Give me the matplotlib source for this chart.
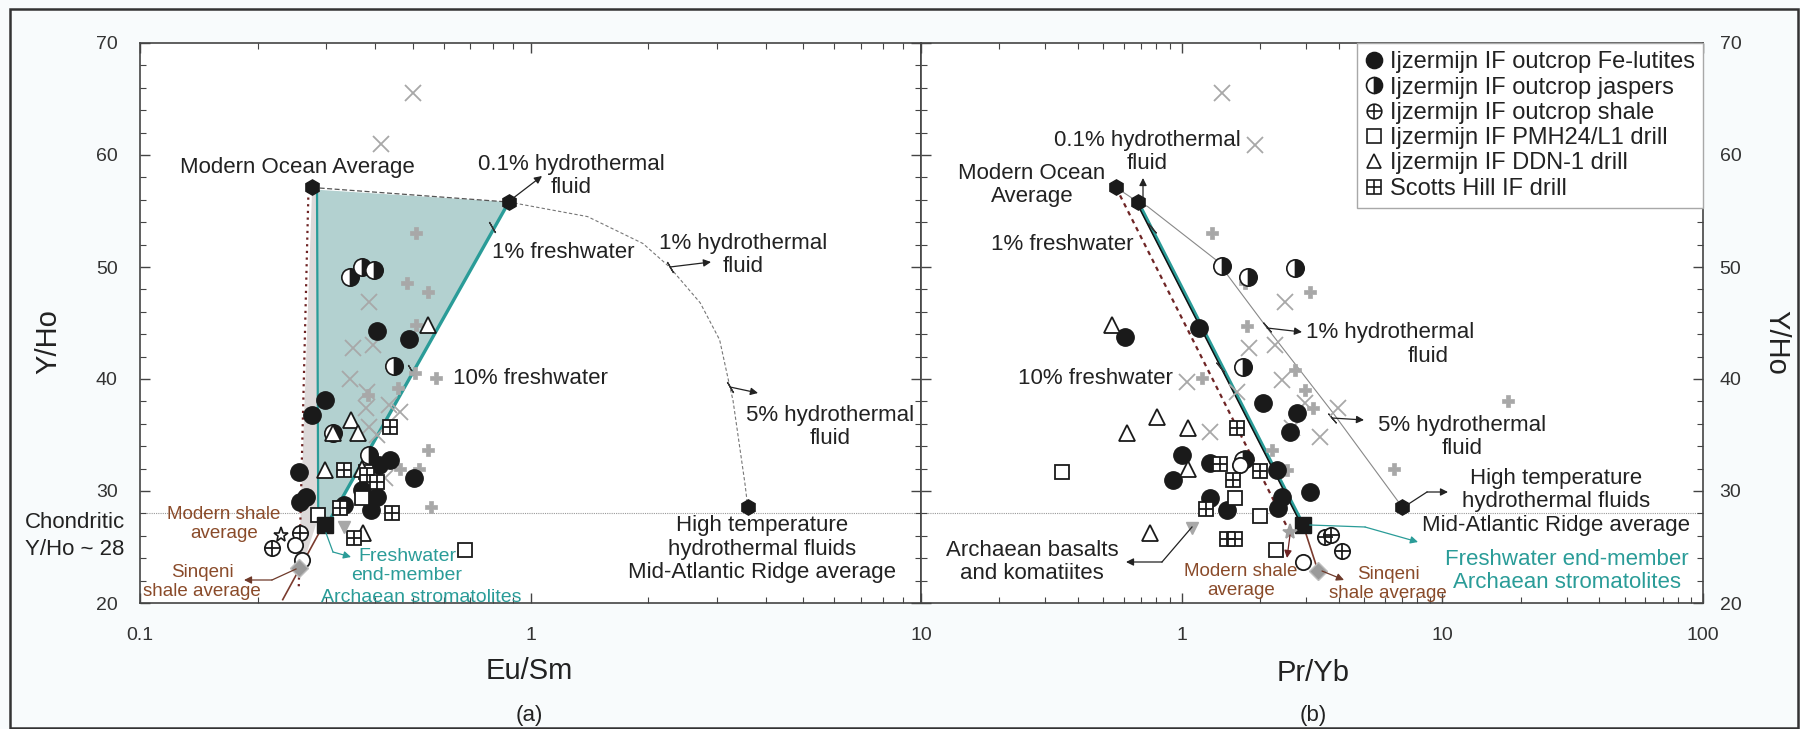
import numpy as np
import matplotlib
matplotlib.use('Agg')
import matplotlib.pyplot as plt
from matplotlib.patches import Rectangle, Polygon, FancyArrowPatch
from matplotlib.ticker import MultipleLocator, FuncFormatter, LogLocator, NullFormatter
from matplotlib.lines import Line2D
from matplotlib.legend_handler import HandlerTuple

plt.rcParams['font.family'] = ['Liberation Sans', 'DejaVu Sans']

# ---------------- data : panel (a)  Eu/Sm vs Y/Ho ----------------
fe_lutite_a_x = [0.404, 0.489, 0.298, 0.276, 0.255, 0.266, 0.257, 0.409, 0.436, 0.504, 0.370, 0.404, 0.391, 0.333]
fe_lutite_a_y = [44.3, 43.6, 38.1, 36.8, 31.7, 29.5, 29.0, 32.3, 32.8, 31.2, 30.1, 29.5, 28.3, 28.75]
jasper_a_x = [0.345, 0.370, 0.397, 0.447, 0.386, 0.312]
jasper_a_y = [49.1, 50.0, 49.7, 41.2, 33.2, 35.2]
shale_a_x = [0.257, 0.218]
shale_a_y = [26.25, 24.9]
open_circle_a_x = [0.249, 0.260]
open_circle_a_y = [25.2, 23.8]
pmh_a_x = [0.286, 0.370, 0.679, 0.378]
pmh_a_y = [27.9, 29.4, 24.7, 31.7]
ddn_a_x = [0.546, 0.347, 0.361, 0.312, 0.297, 0.370, 0.372]
ddn_a_y = [44.8, 36.3, 35.2, 35.2, 31.9, 32.0, 26.25]
scotts_a_x = [0.436, 0.333, 0.381, 0.404, 0.325, 0.441, 0.353]
scotts_a_y = [35.7, 31.9, 31.4, 30.8, 28.5, 28.0, 25.8]
grey_x_a_x = [0.499, 0.414, 0.385, 0.351, 0.396, 0.345, 0.381, 0.378, 0.463, 0.433, 0.386, 0.404, 0.423]
grey_x_a_y = [65.5, 61.0, 46.9, 42.8, 43.0, 40.0, 38.8, 37.4, 37.05, 37.7, 35.7, 35.0, 31.2]
grey_plus_a_x = [0.509, 0.484, 0.545, 0.509, 0.506, 0.573, 0.458, 0.383, 0.548, 0.463, 0.518, 0.555]
grey_plus_a_y = [53.0, 48.6, 47.8, 44.8, 40.5, 40.1, 39.2, 38.6, 33.7, 32.0, 32.0, 28.6]

ocean_avg_a = [0.276, 57.1]
hydro01_a = [0.88, 55.8]
hightemp_a = [3.6, 28.6]
freshwater_a = [0.298, 27.0]
sinqeni_a = [0.255, 23.1]
modern_shale_a = [0.229, 26.1]
basalt_a = [0.333, 26.8]
hydro_curve_a_x = [0.88, 1.4, 1.94, 2.27, 2.72, 3.05, 3.24, 3.30, 3.54, 3.6]
hydro_curve_a_y = [55.8, 54.5, 52.1, 50.0, 46.8, 43.5, 39.3, 38.1, 30.7, 28.6]
mix_ticks_a_x = [0.797, 0.494, 2.27, 3.24]
mix_ticks_a_y = [53.6, 40.8, 50.0, 39.3]

# ---------------- data : panel (b)  Pr/Yb vs Y/Ho ----------------
fe_lutite_b_x = [0.606, 1.164, 2.05, 2.77, 2.60, 1.0, 0.927, 1.285, 1.75, 2.32, 2.43, 1.285, 1.49, 2.34, 3.10]
fe_lutite_b_y = [43.75, 44.55, 37.9, 36.96, 35.3, 33.2, 31.0, 32.5, 32.9, 31.9, 29.5, 29.4, 28.3, 28.5, 29.9]
jasper_b_x = [1.43, 1.79, 2.72, 1.72, 1.72]
jasper_b_y = [50.1, 49.1, 49.9, 41.1, 32.8]
shale_b_x = [3.55, 3.73, 4.12]
shale_b_y = [25.9, 26.1, 24.6]
open_circle_b_x = [2.92, 1.67]
open_circle_b_y = [23.7, 32.3]
pmh_b_x = [0.348, 1.60, 2.0, 2.30]
pmh_b_y = [31.7, 29.4, 27.8, 24.7]
ddn_b_x = [0.541, 0.804, 0.617, 1.057, 1.057, 0.755]
ddn_b_y = [44.8, 36.6, 35.2, 35.6, 32.0, 26.25]
scotts_b_x = [1.63, 1.40, 2.0, 1.57, 1.24, 1.49, 1.60]
scotts_b_y = [35.6, 32.4, 31.8, 31.0, 28.4, 25.7, 25.7]
grey_x_b_x = [1.43, 1.91, 2.49, 1.81, 2.28, 1.05, 2.43, 1.63, 2.97, 3.98, 1.285, 2.64, 3.39]
grey_x_b_y = [65.5, 60.9, 46.9, 42.8, 43.0, 39.7, 39.9, 38.8, 37.9, 37.4, 35.3, 35.6, 34.8]
grey_plus_b_x = [1.31, 1.75, 3.10, 1.78, 2.72, 1.20, 2.97, 3.19, 2.22, 2.54, 2.38, 17.9, 6.5]
grey_plus_b_y = [53.0, 48.6, 47.8, 44.7, 40.8, 40.1, 39.0, 37.4, 33.7, 31.9, 28.6, 38.0, 32.0]

ocean_avg_b = [0.56, 57.1]
hydro01_b = [0.68, 55.8]
hightemp_b = [7.0, 28.6]
freshwater_b = [2.92, 27.0]
sinqeni_b = [3.33, 22.9]
modern_shale_b = [2.60, 26.3]
basalt_b = [1.095, 26.7]
hydro_curve_b_x = [0.68, 0.74, 1.36, 2.12, 2.84, 3.80, 7.0]
hydro_curve_b_y = [55.8, 55.4, 50.6, 44.6, 40.8, 37.0, 28.6]
mix_ticks_b_x = [0.769, 1.40, 2.12, 3.77]
mix_ticks_b_y = [53.5, 41.1, 44.6, 36.5]

chondritic = 28

legend_labels = ['Ijzermijn IF outcrop Fe-lutites', 'Ijzermijn IF outcrop jaspers',
                 'Ijzermijn IF outcrop shale', 'Ijzermijn IF PMH24/L1 drill',
                 'Ijzermijn IF DDN-1 drill', 'Scotts Hill IF drill']

# ---------------- figure ----------------
W, H = 1800, 729
fig = plt.figure(figsize=(18, 7.29), dpi=100)
fig.patch.set_facecolor('#f8fbfc')

def F(X, Y):
    return (X / W, 1 - Y / H)

axL = fig.add_axes([140 / W, 1 - 603 / H, 781 / W, 560 / H])
axR = fig.add_axes([921 / W, 1 - 603 / H, 782 / W, 560 / H])

TEAL = '#2a9c98'
BROWN = '#8a4b2a'
DKRED = '#6e2424'
GREY = '#a8a8a8'
TXT = '#222222'

for ax in (axL, axR):
    ax.set_facecolor('white')
    ax.set_xscale('log')
    ax.set_ylim(20, 70)
    ax.yaxis.set_major_locator(MultipleLocator(10))
    ax.yaxis.set_minor_locator(MultipleLocator(2))
    ax.xaxis.set_major_locator(LogLocator(base=10, numticks=10))
    ax.xaxis.set_minor_locator(LogLocator(base=10, subs=np.arange(2, 10), numticks=20))
    ax.xaxis.set_minor_formatter(NullFormatter())
    ax.tick_params(which='both', direction='in', top=True, bottom=True, left=True, right=True,
                   colors='#444', labelcolor='#333', labelsize=14)
    ax.tick_params(which='major', length=7, width=1.0)
    ax.tick_params(which='minor', length=4, width=0.8)
    ax.tick_params(axis='x', pad=17.5)
    for s in ax.spines.values():
        s.set_color('#444')
        s.set_linewidth(1.2)
    ax.axhline(chondritic, color='#9a9a9a', lw=0.8, ls=(0, (1, 1)), zorder=1)

axL.set_xlim(0.1, 10)
axR.set_xlim(0.1, 100)
axL.tick_params(axis='y', labelleft=True, labelright=False, pad=16)
axR.tick_params(axis='y', labelleft=False, labelright=True, pad=12)
axL.xaxis.set_major_formatter(FuncFormatter(lambda v, p: '%g' % v))
axR.xaxis.set_major_formatter(FuncFormatter(lambda v, p: '' if v < 0.5 else '%g' % v))

# ---------------- panel (a) fields & lines ----------------
grey_poly = [ocean_avg_a, [0.284, 56.9], [0.286, 27.6], [0.268, 24.6], sinqeni_a]
axL.add_patch(Polygon(grey_poly, closed=True, fc='#ddd9d9', ec='none', zorder=1))
teal_poly = [[0.284, 56.9], hydro01_a, [0.305, 27.3], [0.286, 27.6]]
axL.add_patch(Polygon(teal_poly, closed=True, fc='#b3d1d0', ec='none', zorder=1))
axL.plot([0.284, 0.286], [56.9, 27.6], color=TEAL, lw=1.6, zorder=2)
axL.plot([hydro01_a[0], 0.305], [hydro01_a[1], 27.3], color=TEAL, lw=2.4, zorder=2)
axL.plot([ocean_avg_a[0], hydro01_a[0]], [ocean_avg_a[1], hydro01_a[1]], color='#555', lw=0.9,
         ls=(0, (4, 2)), zorder=2)
axL.plot([0.270, 0.255], [56.8, 21.4], color=DKRED, lw=1.6, ls=(0, (1, 2)), zorder=2)
axL.plot([0.29, 0.232], [26.5, 20.3], color='#7a3b2e', lw=1.2, zorder=2)
axL.plot(hydro_curve_a_x, hydro_curve_a_y, color='#777', lw=0.8, ls=(0, (3, 2)), zorder=2)

# ---------------- panel (b) lines ----------------
axR.plot([ocean_avg_b[0], hydro01_b[0]], [ocean_avg_b[1], hydro01_b[1]], color='#888', lw=0.8, zorder=2)
axR.plot([hydro01_b[0], freshwater_b[0]], [hydro01_b[1], freshwater_b[1]], color=TEAL, lw=2.6, zorder=2)
axR.plot([hydro01_b[0] * 0.985, freshwater_b[0] * 0.985], [hydro01_b[1], freshwater_b[1]],
         color='#111', lw=1.1, zorder=2)
axR.plot([ocean_avg_b[0], modern_shale_b[0]], [ocean_avg_b[1], modern_shale_b[1]], color=DKRED,
         lw=1.6, ls=(0, (2, 2)), zorder=2)
axR.plot([freshwater_b[0], sinqeni_b[0]], [freshwater_b[1], sinqeni_b[1]], color='#7a3b2e', lw=1.2, zorder=2)
axR.plot(hydro_curve_b_x, hydro_curve_b_y, color='#888', lw=0.8, zorder=2)

# tick marks on mixing lines
axL.plot(mix_ticks_a_x, mix_ticks_a_y, ls='none', marker=(2, 2, 30), ms=9, mec='#333', mew=0.9, zorder=3)
axR.plot(mix_ticks_b_x, mix_ticks_b_y, ls='none', marker=(2, 2, 40), ms=9, mec='#333', mew=0.9, zorder=3)

# ---------------- markers ----------------
def draw_samples(ax, d):
    (fx, fy, jx, jy, shx, shy, ocx, ocy, px, py, dx, dy, sx, sy, gxx, gxy, gpx, gpy) = d
    ax.plot(gxx, gxy, ls='none', marker='x', ms=11, mec=GREY, mew=1.3, zorder=3)
    ax.plot(gpx, gpy, ls='none', marker='P', ms=8, mfc=GREY, mec=GREY, mew=0.5, zorder=3)
    ax.plot(fx, fy, ls='none', marker='o', ms=12.5, mfc='#1a1a1a', mec='#1a1a1a', zorder=4)
    ax.plot(jx, jy, ls='none', marker='o', ms=12.5, fillstyle='right', mfc='#1a1a1a',
            markerfacecoloralt='white', mec='#1a1a1a', mew=1.2, zorder=4)
    ax.plot(shx, shy, ls='none', marker='o', ms=11, mfc='white', mec='#1a1a1a', mew=1.3, zorder=4)
    ax.plot(shx, shy, ls='none', marker='+', ms=11, mec='#1a1a1a', mew=1.3, zorder=4)
    ax.plot(ocx, ocy, ls='none', marker='o', ms=11, mfc='white', mec='#1a1a1a', mew=1.3, zorder=4)
    ax.plot(px, py, ls='none', marker='s', ms=10, mfc='white', mec='#1a1a1a', mew=1.3, zorder=4)
    ax.plot(dx, dy, ls='none', marker='^', ms=11.5, mfc='white', mec='#1a1a1a', mew=1.3, zorder=4)
    ax.plot(sx, sy, ls='none', marker='s', ms=10, mfc='white', mec='#1a1a1a', mew=1.3, zorder=4)
    ax.plot(sx, sy, ls='none', marker='+', ms=10, mec='#1a1a1a', mew=1.3, zorder=4)

draw_samples(axL, (fe_lutite_a_x, fe_lutite_a_y, jasper_a_x, jasper_a_y, shale_a_x, shale_a_y,
                   open_circle_a_x, open_circle_a_y, pmh_a_x, pmh_a_y, ddn_a_x, ddn_a_y,
                   scotts_a_x, scotts_a_y, grey_x_a_x, grey_x_a_y, grey_plus_a_x, grey_plus_a_y))
draw_samples(axR, (fe_lutite_b_x, fe_lutite_b_y, jasper_b_x, jasper_b_y, shale_b_x, shale_b_y,
                   open_circle_b_x, open_circle_b_y, pmh_b_x, pmh_b_y, ddn_b_x, ddn_b_y,
                   scotts_b_x, scotts_b_y, grey_x_b_x, grey_x_b_y, grey_plus_b_x, grey_plus_b_y))

def draw_refs(ax, ocean, h01, ht, fw, sq, ms_pt, bas, star_col):
    ax.plot([ocean[0], h01[0], ht[0]], [ocean[1], h01[1], ht[1]], ls='none', marker='h', ms=11,
            mfc='#1a1a1a', mec='#1a1a1a', zorder=5)
    ax.plot([fw[0]], [fw[1]], ls='none', marker='s', ms=11, mfc='#1a1a1a', mec='#1a1a1a', zorder=5)
    ax.plot([sq[0]], [sq[1]], ls='none', marker='D', ms=9, mfc='#9a9a9a', mec='#bdbdbd', mew=1, zorder=5)
    ax.plot([ms_pt[0]], [ms_pt[1]], ls='none', marker='*', ms=11, mfc=star_col[0], mec=star_col[1],
            mew=1.2, zorder=5)
    ax.plot([bas[0]], [bas[1]], ls='none', marker='v', ms=9, mfc='#a8a8a8', mec='#a8a8a8', zorder=5)

draw_refs(axL, ocean_avg_a, hydro01_a, hightemp_a, freshwater_a, sinqeni_a, modern_shale_a, basalt_a,
          ('white', '#1a1a1a'))
draw_refs(axR, ocean_avg_b, hydro01_b, hightemp_b, freshwater_b, sinqeni_b, modern_shale_b, basalt_b,
          ('#a0a0a0', '#a0a0a0'))

# ---------------- legend ----------------
hk = dict(ls='none', mec='#1a1a1a', mew=1.2)
handles = [
    Line2D([], [], marker='o', ms=11.5, mfc='#1a1a1a', **hk),
    Line2D([], [], marker='o', ms=11.5, fillstyle='right', mfc='#1a1a1a', markerfacecoloralt='white', **hk),
    (Line2D([], [], marker='o', ms=10.5, mfc='white', **hk), Line2D([], [], marker='+', ms=10.5, **hk)),
    Line2D([], [], marker='s', ms=9.5, mfc='white', **hk),
    Line2D([], [], marker='^', ms=10.5, mfc='white', **hk),
    (Line2D([], [], marker='s', ms=9.5, mfc='white', **hk), Line2D([], [], marker='+', ms=9.5, **hk)),
]
leg = axR.legend(handles, legend_labels, loc='upper right', bbox_to_anchor=(1, 1), borderaxespad=0,
                 fontsize=17, frameon=True, fancybox=False, edgecolor='#a8a8a8', framealpha=1,
                 handlelength=0.8, handletextpad=0.25, borderpad=0.35, labelspacing=0.14,
                 handler_map={tuple: HandlerTuple(ndivide=1)})
leg.get_frame().set_linewidth(1.0)
for t in leg.get_texts():
    t.set_color(TXT)

# ---------------- annotations ----------------
def label(X, Y, s, size=16, color=TXT, ls=1.15, ha='center'):
    fig.text(X / W, 1 - Y / H, s, ha=ha, va='center', fontsize=size, color=color,
             linespacing=ls, multialignment='center')

def poly(pts, color=TXT, lw=0.9):
    xs = [p[0] / W for p in pts]
    ys = [1 - p[1] / H for p in pts]
    fig.add_artist(Line2D(xs, ys, transform=fig.transFigure, color=color, lw=lw))

def arrow(p0, p1, color=TXT, lw=0.9):
    fig.add_artist(FancyArrowPatch(posA=F(*p0), posB=F(*p1), transform=fig.transFigure,
                                   arrowstyle='-|>', mutation_scale=11, lw=lw, color=color,
                                   shrinkA=0, shrinkB=0))

# panel a
label(297, 168, 'Modern Ocean Average')
label(571, 176, '0.1% hydrothermal\nfluid')
arrow((512, 199), (542, 176))
label(563, 252, '1% freshwater')
label(530, 378, '10% freshwater')
label(743, 255, '1% hydrothermal\nfluid')
arrow((670, 267), (711, 262))
label(830, 427, '5% hydrothermal\nfluid')
arrow((730, 387), (758, 393))
label(762, 549, 'High temperature\nhydrothermal fluids\nMid-Atlantic Ridge average')
label(75, 536, 'Chondritic\nY/Ho ~ 28', size=16, ls=1.38)
label(224, 524, 'Modern shale\naverage', size=13.5, color=BROWN, ls=1.1)
label(202, 582, 'Sinqeni\nshale average', size=13.5, color=BROWN, ls=1.1)
poly([(296, 569), (272, 580)], color='#6e3a2a')
arrow((272, 580), (244, 580), color='#6e3a2a')
label(407, 566, 'Freshwater\nend-member', size=14, color=TEAL, ls=1.1)
label(421, 597, 'Archaean stromatolites', size=14, color=TEAL)
poly([(326, 533), (333, 552)], color=TEAL)
arrow((333, 552), (351, 557), color=TEAL)

# panel b
label(1032, 185, 'Modern Ocean\nAverage')
label(1147, 152, '0.1% hydrothermal\nfluid')
arrow((1143, 200), (1143, 178))
label(1062, 244, '1% freshwater')
label(1095, 378, '10% freshwater')
label(1306, 332, '1% hydrothermal', ha='left')
label(1428, 357, 'fluid')
arrow((1267, 328), (1302, 332))
label(1462, 437, '5% hydrothermal\nfluid')
arrow((1332, 418), (1364, 420))
label(1556, 502, 'High temperature\nhydrothermal fluids\nMid-Atlantic Ridge average')
poly([(1407, 505), (1427, 492)])
arrow((1427, 492), (1448, 492))
label(1567, 571, 'Freshwater end-member\nArchaean stromatolites', size=16, color=TEAL, ls=1.1)
poly([(1310, 525), (1365, 527)], color=TEAL)
arrow((1365, 527), (1418, 542), color=TEAL)
label(1388, 584, 'Sinqeni\nshale average', size=13.5, color=BROWN, ls=1.1)
arrow((1322, 571), (1344, 580), color='#6e3a2a')
label(1241, 581, 'Modern shale\naverage', size=13.5, color=BROWN, ls=1.1)
arrow((1290, 535), (1287, 558), color=DKRED)
label(1032, 562, 'Archaean basalts\nand komatiites')
poly([(1192, 527), (1162, 562)])
arrow((1162, 562), (1126, 562))

# axis titles
label(529, 671, 'Eu/Sm', size=21, color='#222')
label(529, 716, '(a)', size=16, color='#222')
label(1313, 673, 'Pr/Yb', size=21, color='#222')
label(1313, 716, '(b)', size=16, color='#222')
fig.text(48 / W, 1 - 342 / H, 'Y/Ho', rotation=90, ha='center', va='center', fontsize=21, color='#222')
fig.text(1776 / W, 1 - 342 / H, 'Y/Ho', rotation=270, ha='center', va='center', fontsize=21, color='#222')

# figure border
fig.add_artist(Rectangle((10 / W, 1 / H), 1788 / W, (728 - 9) / H, transform=fig.transFigure,
                         fc='none', ec='#333', lw=1.8))

fig.savefig('out.png', dpi=100, facecolor=fig.get_facecolor())
